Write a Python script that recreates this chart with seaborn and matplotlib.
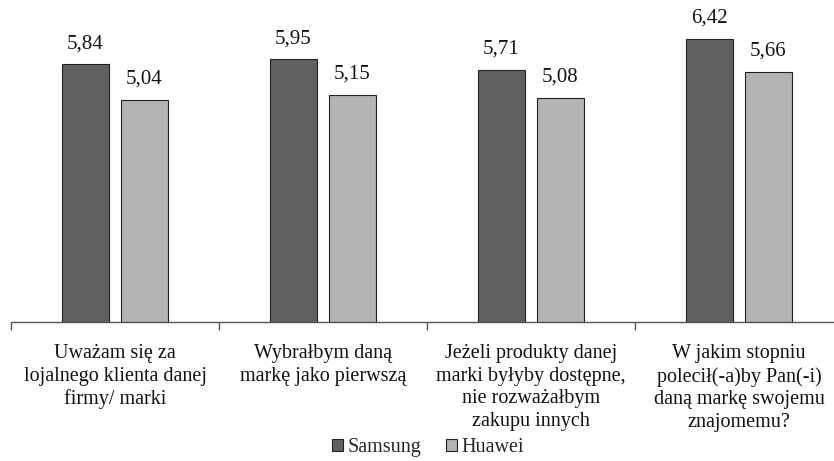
import matplotlib
matplotlib.use("Agg")
import matplotlib.pyplot as plt
import seaborn as sns
import pandas as pd
from matplotlib.ticker import FixedLocator

categories = [
    "Uważam się za\nlojalnego klienta danej\nfirmy/ marki",
    "Wybrałbym daną\nmarkę jako pierwszą",
    "Jeżeli produkty danej\nmarki byłyby dostępne,\nnie rozważałbym\nzakupu innych",
    "W jakim stopniu\npolecił(-a)by Pan(-i)\ndaną markę swojemu\nznajomemu?",
]
series_names = ["Samsung", "Huawei"]
samsung = [5.84, 5.95, 5.71, 6.42]
huawei = [5.04, 5.15, 5.08, 5.66]

df = pd.DataFrame({
    "cat": categories * 2,
    "brand": [series_names[0]] * 4 + [series_names[1]] * 4,
    "val": samsung + huawei,
})

sns.set_theme(style="white")
plt.rcParams["font.family"] = ["Liberation Serif", "DejaVu Serif"]

fig = plt.figure(figsize=(8.34, 4.61), dpi=100)
ax = fig.add_axes([11 / 834, (461 - 322) / 461, 832 / 834, 309 / 461])

sns.barplot(data=df, x="cat", y="val", hue="brand", order=categories,
            hue_order=series_names, palette=["#606160", "#b4b4b4"],
            width=0.567, gap=0.2, edgecolor="#222222", linewidth=0.8,
            saturation=1, ax=ax, legend=True)

ax.set_ylim(0, 7)
ax.set_xlim(-0.5, 3.5)
for c in ax.containers:
    ax.bar_label(c, labels=[f"{v:.2f}".replace(".", ",") for v in c.datavalues],
                 padding=8, fontsize=15, color="#111111")

ax.set_xlabel("")
ax.set_ylabel("")
ax.set_yticks([])
for s in ["left", "right", "top"]:
    ax.spines[s].set_visible(False)
ax.spines["bottom"].set_color("#555555")
ax.spines["bottom"].set_linewidth(1.0)
ax.tick_params(axis="x", which="major", length=0, pad=16, labelsize=14.5, labelcolor="#111111")
ax.xaxis.set_minor_locator(FixedLocator([-0.5, 0.5, 1.5, 2.5, 3.5]))
ax.tick_params(axis="x", which="minor", length=6, width=1.0, color="#555555", direction="out", bottom=True)
for t in ax.get_xticklabels():
    t.set_multialignment("center")
    t.set_linespacing(1.25)

leg = ax.legend(loc="lower center", bbox_to_anchor=(428 / 834, -6 / 461), bbox_transform=fig.transFigure,
                ncol=2, frameon=False, fontsize=14.5, handlelength=0.55, handleheight=0.55,
                handletextpad=0.25, columnspacing=1.2, borderpad=0)

fig.savefig("out.png", dpi=100)
